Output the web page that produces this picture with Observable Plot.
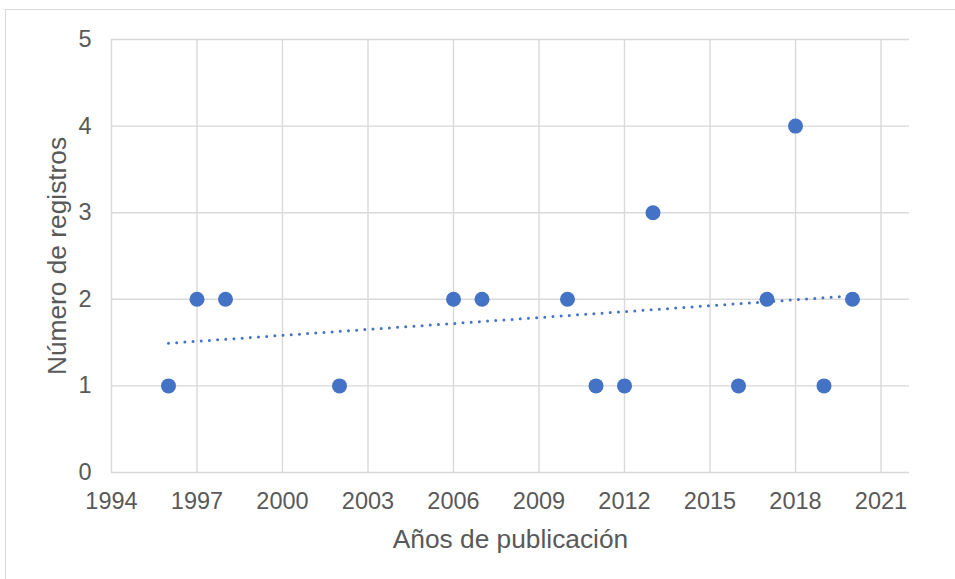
<!DOCTYPE html>
<html>
<head>
<meta charset="utf-8">
<script src="https://cdn.jsdelivr.net/npm/d3@7"></script>
<script src="https://cdn.jsdelivr.net/npm/@observablehq/plot@0.6"></script>
<style>
  html, body { margin: 0; padding: 0; background: #fff; }
  #wrap { position: relative; width: 955px; height: 579px; overflow: hidden; }
  #border { position: absolute; left: 5px; top: 9px; width: 2000px; height: 2000px; border: 1.5px solid #d9d9d9; pointer-events: none; box-sizing: border-box; }
  svg { font-family: "Liberation Sans", Arial, sans-serif; }
</style>
</head>
<body>
<div id="wrap"><div id="border"></div></div>
<script>
const years  = [1996, 1997, 1998, 2002, 2006, 2007, 2010, 2011, 2012, 2013, 2016, 2017, 2018, 2019, 2020];
const counts = [1, 2, 2, 1, 2, 2, 2, 1, 1, 3, 1, 2, 4, 1, 2];
const xTicks = [1994, 1997, 2000, 2003, 2006, 2009, 2012, 2015, 2018, 2021];
const yTicks = [0, 1, 2, 3, 4, 5];
const xTitle = "Años de publicación";
const yTitle = "Número de registros";

const data = years.map((y, i) => ({year: y, n: counts[i]}));
const blue = "#4472C4";
const grey = "#d9d9d9";
const textCol = "#595959";

const chart = Plot.plot({
  width: 955,
  height: 579,
  marginLeft: 111,
  marginRight: 46,
  marginTop: 39,
  marginBottom: 107,
  style: {fontFamily: '"Liberation Sans", Arial, sans-serif', background: "transparent"},
  x: {domain: [1994, 2022]},
  y: {domain: [0, 5]},
  marks: [
    Plot.gridX(xTicks, {stroke: grey, strokeOpacity: 1, strokeWidth: 1.4}),
    Plot.gridY(yTicks, {stroke: grey, strokeOpacity: 1, strokeWidth: 1.4}),
    Plot.axisX(xTicks, {tickSize: 0, tickPadding: 20, fontSize: 23.5, fill: textCol, label: null, tickFormat: d => String(d)}),
    Plot.axisY(yTicks, {tickSize: 0, tickPadding: 20, fontSize: 23.5, fill: textCol, label: null, tickFormat: d => String(d)}),
    Plot.linearRegressionY(data, {x: "year", y: "n", ci: 0, stroke: blue, strokeWidth: 3, strokeDasharray: "0 8.2", strokeLinecap: "round"}),
    Plot.dot(data, {x: "year", y: "n", r: 7.5, fill: blue, stroke: null}),
    Plot.text([xTitle], {frameAnchor: "bottom", dy: 67, fontSize: 26.3, fill: textCol, lineAnchor: "middle"}),
    Plot.text([yTitle], {frameAnchor: "left", dx: -54, rotate: -90, fontSize: 26.3, fill: textCol, lineAnchor: "middle", textAnchor: "middle"})
  ]
});
document.getElementById("wrap").appendChild(chart);
chart.style.position = "absolute";
chart.style.left = "0";
chart.style.top = "0";
</script>
</body>
</html>
